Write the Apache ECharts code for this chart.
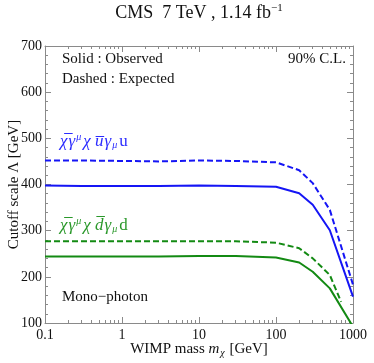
<!DOCTYPE html>
<html><head><meta charset="utf-8">
<script src="https://cdn.jsdelivr.net/npm/echarts@6/dist/echarts.min.js"></script>
<style>html,body{margin:0;padding:0;background:#fff}#c{width:374px;height:363px}</style>
</head><body><div id="c"></div>
<script>
const massObs = [0.1, 0.3, 1, 3, 10, 30, 100, 200, 300, 500, 1000];
const massExpGreen = [0.1, 0.3, 1, 3, 10, 30, 100, 200, 300, 500, 700];
const uuObserved = [398, 397, 397, 397, 398, 397, 395, 381, 356, 301, 157];
const uuExpected = [452, 452, 451, 450, 452, 451, 448, 431, 403, 345, 183];
const ddObserved = [244, 244, 244, 244, 245, 245, 242, 231, 211, 175, 92];
const ddExpected = [277, 277, 277, 277, 277, 277, 274, 262, 240, 204, 146];
const xMajor = [0.1, 1, 10, 100, 1000];
const xMinor = [];
for (const d of [0.1, 1, 10, 100]) for (let k = 2; k <= 9; k++) xMinor.push(+(d * k).toPrecision(3));

const FONT = 'Liberation Serif';
const BLUE = '#1515f5', GREEN = '#138a13';
const pairs = (xs, ys) => xs.map((x, i) => [x, ys[i]]);

const axisCol = '#8a8a8a';
function xAx(pos, minor, labels) {
  return {
    type: 'log', logBase: 10, min: 0.1, max: 1000, position: pos,
    axisLine: { show: !minor, lineStyle: { color: axisCol, width: 1 } },
    axisTick: { show: true, inside: true, length: minor ? 3 : 6, customValues: minor ? xMinor : xMajor,
      lineStyle: { color: axisCol } },
    axisLabel: { show: labels, customValues: xMajor, fontFamily: FONT, fontSize: 14, color: '#111', margin: 5,
      formatter: v => String(v) },
    splitLine: { show: false }
  };
}
function yAx(pos, labels) {
  return {
    type: 'value', min: 100, max: 700, interval: 100, position: pos,
    axisLine: { show: true, lineStyle: { color: axisCol } },
    axisTick: { show: true, inside: true, length: 6, lineStyle: { color: axisCol } },
    minorTick: { show: true, splitNumber: 5, length: 3, lineStyle: { color: axisCol } },
    axisLabel: { show: labels, fontFamily: FONT, fontSize: 14, color: '#111', margin: 3 },
    splitLine: { show: false }
  };
}
const xs = [xAx('bottom', false, true), xAx('bottom', true, false), xAx('top', false, false), xAx('top', true, false)];
xs[0].name = '{n|WIMP mass }{i|m}{s|χ}{n| [GeV]}';
xs[0].nameLocation = 'middle';
xs[0].nameGap = 18;
xs[0].nameMoveOverlap = false;
xs[0].nameTextStyle = { rich: {
  n: { fontFamily: FONT, fontSize: 15, color: '#111' },
  i: { fontFamily: FONT, fontSize: 15, fontStyle: 'italic', color: '#111' },
  s: { fontFamily: FONT, fontSize: 10, fontStyle: 'italic', color: '#111', padding: [7, 1, 0, 1] }
} };
const ys = [yAx('left', true), yAx('right', false)];
ys[0].name = 'Cutoff scale Λ [GeV]';
ys[0].nameLocation = 'middle';
ys[0].nameGap = 23;
ys[0].nameMoveOverlap = false;
ys[0].nameTextStyle = { fontFamily: FONT, fontSize: 15, color: '#111' };

function line(data, color, dashed) {
  return { type: 'line', data, xAxisIndex: 0, yAxisIndex: 0, showSymbol: false, symbol: 'none', clip: true,
    lineStyle: { color, width: 2, type: dashed ? [6, 3] : 'solid' }, animation: false };
}

const richLbl = col => ({
  it: { fontFamily: FONT, fontSize: 17, fontStyle: 'italic', fill: col, padding: [0, 1, 0, 0] },
  n: { fontFamily: FONT, fontSize: 17, fill: col },
  sup: { fontFamily: FONT, fontSize: 10, fontStyle: 'italic', fill: col, padding: [0, 2, 9, 0] },
  sub: { fontFamily: FONT, fontSize: 10, fontStyle: 'italic', fill: col, padding: [8, 2, 0, 0] }
});

const chart = echarts.init(document.getElementById('c'), null, { renderer: 'canvas' });
chart.setOption({
  animation: false,
  backgroundColor: '#fff',
  grid: { left: 45, right: 21, top: 46, bottom: 40, containLabel: false, outerBoundsMode: 'none' },
  xAxis: xs, yAxis: ys,
  series: [
    line(pairs(massObs, uuObserved), BLUE, false),
    line(pairs(massObs, uuExpected), BLUE, true),
    line(pairs(massObs, ddObserved), GREEN, false),
    line(pairs(massExpGreen, ddExpected), GREEN, true)
  ],
  graphic: [
    { type: 'text', x: 199, y: 3, style: { text: '{n|CMS  7 TeV , 1.14 fb}{sup|−1}', align: 'center', rich: {
      n: { fontFamily: FONT, fontSize: 18, fill: '#111' },
      sup: { fontFamily: FONT, fontSize: 11, fill: '#111', padding: [0, 0, 9, 0] } } } },
    { type: 'text', x: 62, y: 52, style: { text: 'Solid : Observed', fontFamily: FONT, fontSize: 15, fill: '#111' } },
    { type: 'text', x: 62, y: 72, style: { text: 'Dashed : Expected', fontFamily: FONT, fontSize: 15, fill: '#111' } },
    { type: 'text', x: 346, y: 52, style: { text: '90% C.L.', fontFamily: FONT, fontSize: 15, fill: '#111', align: 'right' } },
    { type: 'text', x: 62, y: 290, style: { text: 'Mono−photon', fontFamily: FONT, fontSize: 15, fill: '#111' } },
    { type: 'text', x: 60, y: 132, style: { text: '{it|χ\u0305}{it|γ}{sup|μ}{it|χ} {it|u\u0305}{it|γ}{sub|μ}{n|u}', rich: richLbl('#2b2bff') } },
    { type: 'text', x: 60, y: 216, style: { text: '{it|χ\u0305}{it|γ}{sup|μ}{it|χ} {it|d\u0305}{it|γ}{sub|μ}{n|d}', rich: richLbl('#2a982a') } }
  ]
});
</script></body></html>
